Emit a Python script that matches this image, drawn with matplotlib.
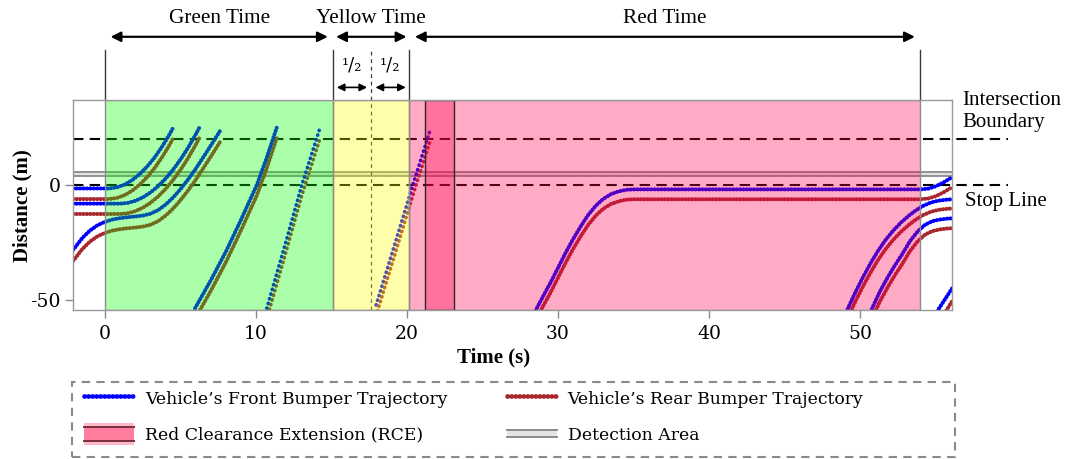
import matplotlib
matplotlib.use("Agg")
import matplotlib.pyplot as plt
from matplotlib.patches import Rectangle
from matplotlib.lines import Line2D
from matplotlib.legend_handler import HandlerBase

plt.rcParams['font.family'] = ['DejaVu Serif']
plt.rcParams['mathtext.fontset'] = 'dejavuserif'
plt.rcParams['axes.unicode_minus'] = False

# ---------------- data ----------------
phase_names = ['Green Time', 'Yellow Time', 'Red Time']
phase_edges = [0.0, 15.12, 20.15, 54.0]          # green start, yellow start, red start, red end (s)
rce_span = [21.2, 23.1]                           # red clearance extension (s)
stop_line = 0.0                                   # m
intersection_boundary = 20.0                      # m
detection_area = [3.9, 5.8]                       # m
x_ticks = [0, 10, 20, 30, 40, 50]
y_ticks = [-50, 0]
x_range = [-2.12, 56.09]
y_range = [-54.35, 36.96]

# vehicle 1 (queued, first)
v1_t = [-2.12, 0.0, 0.3, 0.8, 1.3, 1.8, 2.3, 2.8, 3.3, 3.8, 4.2, 4.47]
v1_front = [-1.5, -1.5, -1.5, -1.0, 0.2, 2.1, 4.8, 8.1, 12.1, 16.9, 21.2, 24.4]
v1_rear = [-6.1, -6.1, -6.1, -5.6, -4.4, -2.5, 0.2, 3.5, 7.5, 12.3, 16.6, 19.8]
# vehicle 2 (queued, second)
v2_t = [-2.12, 0.0, 1.0, 1.5, 2.0, 2.5, 3.0, 3.5, 4.0, 4.5, 5.0, 5.5, 6.0, 6.25]
v2_front = [-8.1, -8.1, -8.1, -7.8, -6.9, -5.4, -3.3, -0.6, 2.7, 6.6, 11.1, 16.2, 21.9, 25.0]
v2_rear = [-12.6, -12.6, -12.6, -12.3, -11.4, -9.9, -7.8, -5.1, -1.8, 2.1, 6.6, 11.7, 17.4, 20.5]
# vehicle 3 (arriving, joins queue)
v3_t = [-2.12, -1.5, -1.0, -0.5, 0.0, 0.5, 1.0, 1.5, 2.0, 2.5, 3.0, 3.5, 4.0, 4.5,
        5.0, 5.5, 6.0, 6.5, 7.0, 7.5, 7.68]
v3_front = [-28.3, -23.0, -19.8, -17.5, -16.0, -15.0, -14.4, -14.0, -13.7, -13.3, -12.5,
            -11.0, -8.6, -5.5, -1.8, 2.4, 7.0, 12.0, 17.1, 22.3, 24.2]
v3_rear = [-33.1, -27.8, -24.6, -22.3, -20.8, -19.8, -19.2, -18.8, -18.5, -18.1, -17.3,
           -15.8, -13.4, -10.3, -6.6, -2.4, 2.2, 7.2, 12.3, 17.5, 19.4]
# vehicle 4 (free flow in green)
v4_t = [5.96, 7.0, 8.0, 9.0, 10.05, 10.7, 11.37]
v4_front = [-53.6, -41.5, -29.0, -15.2, 0.0, 11.7, 24.9]
v4_rear = [-58.2, -46.1, -33.6, -19.8, -4.6, 7.1, 20.3]
# vehicle 5 (fast, end of green)
v5_t = [10.71, 11.9, 13.03, 14.24]
v5_front = [-53.6, -26.5, 0.0, 24.9]
v5_rear = [-58.2, -31.1, -4.6, 20.3]
# vehicle 6 (runs the yellow / early red)
v6_t = [17.95, 19.2, 20.38, 21.57]
v6_front = [-52.2, -25.5, 0.0, 24.6]
v6_rear = [-56.8, -30.1, -4.6, 20.0]
# vehicle 7 (stops at the stop line during red)
v7_t = [28.5, 29.0, 29.5, 30.0, 30.5, 31.0, 31.5, 32.0, 32.5, 33.0, 33.5, 34.0, 34.5,
        35.0, 54.0, 54.5, 55.0, 55.5, 56.1]
v7_front = [-54.8, -48.5, -42.5, -36.0, -29.5, -23.5, -18.0, -13.0, -9.0, -6.0, -4.0,
            -2.8, -2.1, -1.9, -1.9, -1.6, -0.6, 1.0, 3.4]
v7_rear = [-59.1, -52.8, -46.8, -40.3, -33.8, -27.8, -22.3, -17.3, -13.3, -10.3, -8.3,
           -7.1, -6.4, -6.2, -6.2, -5.9, -4.9, -3.3, -0.9]
# vehicle 8 (queues behind vehicle 7)
v8_t = [48.9, 49.2, 49.7, 50.2, 50.7, 51.2, 51.7, 52.2, 52.7, 53.2, 53.7, 54.2, 54.7,
        55.2, 55.7, 56.1]
v8_front = [-58.0, -53.6, -46.5, -40.0, -34.0, -28.5, -23.8, -19.8, -16.4, -13.5, -11.0,
            -9.0, -7.6, -6.8, -6.4, -6.2]
v8_rear = [-62.0, -57.6, -50.5, -44.0, -38.0, -32.5, -27.8, -23.8, -20.4, -17.5, -15.0,
           -13.0, -11.6, -10.8, -10.4, -10.2]
# vehicle 9 (queues behind vehicle 8)
v9_t = [50.5, 50.8, 51.3, 51.8, 52.3, 52.8, 53.3, 53.8, 54.3, 54.8, 55.3, 55.8, 56.1]
v9_front = [-58.0, -53.6, -46.5, -40.5, -35.0, -30.0, -24.5, -20.3, -17.3, -15.7,
            -15.0, -14.6, -14.5]
v9_rear = [-62.3, -57.9, -50.8, -44.8, -39.3, -34.3, -28.8, -24.6, -21.6, -20.0,
           -19.3, -18.9, -18.8]
# vehicle 10 (just entering at the end)
v10_t = [55.1, 56.1]
v10_front = [-55.0, -44.9]
v10_rear = [-61.0, -50.5]

legend_labels = ["Vehicle\u2019s Front Bumper Trajectory", "Red Clearance Extension (RCE)",
                 "Vehicle\u2019s Rear Bumper Trajectory", "Detection Area"]

# ---------------- figure ----------------
W, H = 1065, 459
fig = plt.figure(figsize=(W / 100, H / 100), dpi=100)
ax = fig.add_axes([73 / W, 1 - 310 / H, (952 - 73) / W, 210 / H])
ax.set_xlim(*x_range)
ax.set_ylim(*y_range)

FRONT = '#0000ff'
REAR = '#a8282e'
dense = (0, (0.1, 0.75))
sparse = (0, (0.1, 1.25))

vehicles = [
    (v1_t, v1_front, v1_rear, dense), (v2_t, v2_front, v2_rear, dense),
    (v3_t, v3_front, v3_rear, dense), (v4_t, v4_front, v4_rear, dense),
    (v5_t, v5_front, v5_rear, sparse), (v6_t, v6_front, v6_rear, sparse),
    (v7_t, v7_front, v7_rear, dense), (v8_t, v8_front, v8_rear, dense),
    (v9_t, v9_front, v9_rear, dense), (v10_t, v10_front, v10_rear, dense),
]
for t, f, r, st in vehicles:
    lw = 2.9 if st is dense else 2.6
    ax.plot(t, r, color=REAR, lw=lw, ls=st, dash_capstyle='round', zorder=2)
for t, f, r, st in vehicles:
    lw = 2.9 if st is dense else 2.6
    ax.plot(t, f, color=FRONT, lw=lw, ls=st, dash_capstyle='round', zorder=2.1)

# detection area
ax.axhspan(detection_area[0], detection_area[1], facecolor='#e2e2e2', edgecolor='none', zorder=1.5)
for yv in detection_area:
    ax.axhline(yv, color='#8a8a8a', lw=1.3, zorder=1.6)

# stop line / intersection boundary dashed lines (extend past the axes)
for yv in (stop_line, intersection_boundary):
    ax.plot([x_range[0], 59.8], [yv, yv], color='black', lw=1.5, ls=(0, (5, 3)),
            clip_on=False, zorder=1.8)

# signal phase shading (drawn on top, translucent)
GREEN = (0.0, 1.0, 0.0, 0.33)
YELLOW = (1.0, 1.0, 0.0, 0.33)
PINK = (1.0, 0.0, 0.31, 0.33)
ax.axvspan(phase_edges[0], phase_edges[1], facecolor=GREEN, edgecolor='#8c8c8c', lw=1, zorder=3)
ax.axvspan(phase_edges[1], phase_edges[2], facecolor=YELLOW, edgecolor='#8c8c8c', lw=1, zorder=3)
ax.axvspan(phase_edges[2], phase_edges[3], facecolor=PINK, edgecolor='#8c8c8c', lw=1, zorder=3)
ax.axvspan(rce_span[0], rce_span[1], facecolor=PINK, edgecolor='#2a2a2a', lw=1, zorder=3.1)

# axes styling
for sp in ax.spines.values():
    sp.set_color('#9a9a9a')
    sp.set_linewidth(1.0)
    sp.set_zorder(5)
ax.set_xticks(x_ticks)
ax.set_yticks(y_ticks)
ax.set_yticklabels([str(v) for v in y_ticks])
ax.tick_params(axis='both', direction='out', length=5.5, width=1, color='#8a8a8a', labelsize=13.5)
ax.tick_params(axis='x', pad=5)
ax.tick_params(axis='y', pad=3.5)

fig.text(494 / W, 1 - 357 / H, 'Time (s)', ha='center', va='center',
         fontsize=15, fontweight='bold', family='Liberation Serif')
fig.text(22 / W, 1 - 206 / H, 'Distance (m)', ha='center', va='center', rotation=90,
         fontsize=15, fontweight='bold', family='Liberation Serif')

# ---------------- phase annotations above the axes ----------------
trans = ax.get_xaxis_transform()
top_y = 1.238
for b in phase_edges:
    ax.plot([b, b], [1.0, top_y], transform=trans, color='#3a3a3a', lw=1.0, clip_on=False)
mid_yellow = (phase_edges[1] + phase_edges[2]) / 2
ax.plot([mid_yellow, mid_yellow], [0.0, top_y], transform=trans, color='#3a3a3a', lw=0.9,
        ls=(0, (3, 3)), clip_on=False, zorder=2.5)


def span_arrow(x0, x1, y, s0, s1, lw, ms):
    ax.annotate('', xy=(x1, y), xytext=(x0, y), xycoords=trans, textcoords=trans,
                annotation_clip=False,
                arrowprops=dict(arrowstyle='<|-|>', color='black', lw=lw, mutation_scale=ms,
                                shrinkA=s0, shrinkB=s1))


arrow_y = 1.301
span_arrow(phase_edges[0], phase_edges[1], arrow_y, 4, 4, 1.6, 15)
span_arrow(phase_edges[1], phase_edges[2], arrow_y, 2, 2, 1.6, 15)
span_arrow(phase_edges[2], phase_edges[3], arrow_y, 4, 4, 1.6, 15)
span_arrow(phase_edges[1], mid_yellow, 1.060, 2.5, 3, 1.2, 11)
span_arrow(mid_yellow, phase_edges[2], 1.060, 3, 2.5, 1.2, 11)
for xa, xb in ((phase_edges[1], mid_yellow), (mid_yellow, phase_edges[2])):
    ax.text((xa + xb) / 2, 1.165, '\u00b9/\u2082', transform=trans, ha='center',
            va='center', fontsize=13)

title_y = 1.388
for name, xa, xb in zip(phase_names, phase_edges[:-1], phase_edges[1:]):
    ax.text((xa + xb) / 2, title_y, name, transform=trans, ha='center', va='center',
            fontsize=15.3, family='Liberation Serif')

ax.text(56.75, 31.9, 'Intersection\nBoundary', ha='left', va='center', fontsize=15,
        family='Liberation Serif', linespacing=1.2, clip_on=False)
ax.text(56.95, -7.3, 'Stop Line', ha='left', va='center', fontsize=15,
        family='Liberation Serif', clip_on=False)


# ---------------- legend ----------------
class BandHandler(HandlerBase):
    def __init__(self, outer, inner, edge, frac):
        super().__init__()
        self.outer, self.inner, self.edge, self.frac = outer, inner, edge, frac

    def create_artists(self, legend, orig_handle, xdescent, ydescent, width, height,
                       fontsize, trans):
        arts = []
        x0, y0 = -xdescent, -ydescent
        if self.outer is not None:
            arts.append(Rectangle((x0, y0), width, height, facecolor=self.outer,
                                  edgecolor='none', transform=trans))
        h = height * self.frac
        yb = y0 + (height - h) / 2
        arts.append(Rectangle((x0, yb), width, h, facecolor=self.inner, edgecolor='none',
                              transform=trans))
        for yy in (yb, yb + h):
            arts.append(Line2D([x0, x0 + width], [yy, yy], color=self.edge, lw=1.4,
                               transform=trans))
        return arts


class RCEKey:
    pass


class DetKey:
    pass


h_front = Line2D([], [], color=FRONT, lw=3.4, ls=dense, dash_capstyle='round')
h_rear = Line2D([], [], color=REAR, lw=3.4, ls=dense, dash_capstyle='round')
h_rce = RCEKey()
h_det = DetKey()

leg_fs = 12.4
fs_px = leg_fs * 100 / 72
leg = fig.legend([h_front, h_rce, h_rear, h_det], legend_labels, ncol=2,
                 loc='upper left', bbox_to_anchor=(84 / W, 1 - 387.5 / H),
                 bbox_transform=fig.transFigure, frameon=False, fontsize=leg_fs,
                 borderpad=0, borderaxespad=0, handlelength=50 / fs_px,
                 handleheight=27 / fs_px, handletextpad=11 / fs_px,
                 labelspacing=13.7 / fs_px, columnspacing=59 / fs_px,
                 handler_map={RCEKey: BandHandler('#ffb8c8', '#ff7d9c', '#7a3040', 0.62),
                              DetKey: BandHandler(None, '#e4e4e4', '#8a8a8a', 0.31)})

fig.patches.append(Rectangle((72 / W, 1 - 457 / H), (955 - 72) / W, (457 - 382) / H,
                             transform=fig.transFigure, facecolor='none',
                             edgecolor='#8a8a8a', lw=1.5, ls=(0, (4, 3))))

fig.savefig('out.png', dpi=100)
